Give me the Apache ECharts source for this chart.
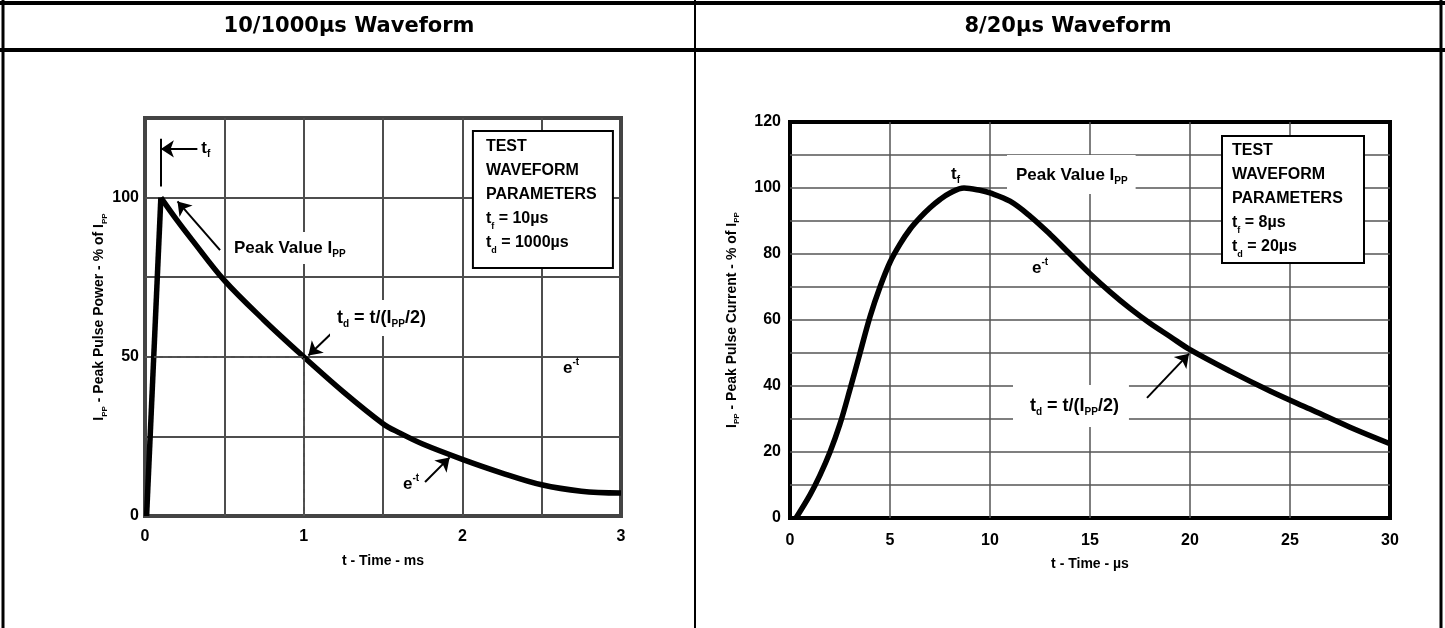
<!DOCTYPE html>
<html><head><meta charset="utf-8">
<script src="https://cdn.jsdelivr.net/npm/echarts@6/dist/echarts.min.js"></script>
<style>html,body{margin:0;padding:0;background:#fff}#c{width:1445px;height:628px}</style>
</head><body><div id="c"></div>
<script>
// ---- data ----
const panelTitles = ['10/1000µs Waveform', '8/20µs Waveform'];
const leftTime  = [0.01, 0.1, 0.2, 0.3, 0.5, 0.75, 1.0, 1.25, 1.5, 1.6, 1.75, 2.0, 2.25, 2.5, 2.75, 3.0];
const leftPower = [0, 100, 93, 86.5, 74, 61.5, 50, 39, 29, 26.2, 22.6, 17.8, 13.5, 9.8, 7.8, 7.2];
const rightTime    = [0.3, 1, 1.5, 2, 2.5, 3, 3.5, 4, 4.5, 5, 5.5, 6, 6.5, 7, 7.5, 8, 8.7, 9.5, 10, 11, 12, 13, 14, 15, 16, 17, 18, 19, 20, 22, 24, 26, 28, 30];
const rightCurrent = [0, 7, 13, 20, 28.5, 39, 50, 61, 70, 77.5, 83, 87.5, 91, 94, 96.5, 98.5, 100, 99.3, 98.5, 96, 91.5, 86, 80, 74, 68.5, 63.5, 59, 55, 51, 44.5, 38.5, 33, 27.5, 22.5];
const leftXLabels  = [0, 1, 2, 3];
const leftYLabels  = [0, 50, 100];
const rightXLabels = [0, 5, 10, 15, 20, 25, 30];
const rightYLabels = [0, 20, 40, 60, 80, 100, 120];
const leftHalfPoint = [1, 50];

// ---- styles ----
const F = 'Liberation Sans';
const HF = 'DejaVu Sans';
function rich(lh, fs, sfs) {
  return {
    b: {fontFamily: F, fontWeight: 'bold', fontSize: fs, color: '#000', lineHeight: lh, verticalAlign: 'middle'},
    s: {fontFamily: F, fontWeight: 'bold', fontSize: sfs, color: '#000', lineHeight: sfs + 2, verticalAlign: 'bottom'},
    p: {fontFamily: F, fontWeight: 'bold', fontSize: sfs, color: '#000', lineHeight: sfs + 2, verticalAlign: 'top'}
  };
}
function lab(coord, text, opt) {
  opt = opt || {};
  return {
    coord: coord, symbol: 'circle', symbolSize: 0, itemStyle: {color: 'rgba(0,0,0,0)'},
    label: Object.assign({
      show: true, position: [0, 0], align: 'left', verticalAlign: 'middle',
      formatter: text, rich: rich(opt.lh || 22, opt.fs || 17, opt.sfs || 10)
    }, opt.label || {})
  };
}
function box(coord, text, width, padding, lh) {
  return lab(coord, text, {lh: lh, fs: 16, sfs: 9, label: {
    verticalAlign: 'top', width: width, padding: padding,
    backgroundColor: '#fff', borderColor: '#000', borderWidth: 2
  }});
}
function arrow(a, b) {
  return [{coord: a, symbol: 'none', lineStyle: {color: '#000', width: 2, type: 'solid'}}, {coord: b, symbol: 'arrow', symbolSize: 13}];
}
function seg(a, b, style) {
  return [{coord: a, symbol: 'none', lineStyle: style}, {coord: b, symbol: 'none'}];
}
const dash = {color: '#555', width: 1.5, type: [5, 4]};
const solid2 = {color: '#000', width: 2, type: 'solid'};
const axisNameStyle = {fontFamily: F, fontWeight: 'bold', fontSize: 14, color: '#000', rich: {
  n: {fontFamily: F, fontWeight: 'bold', fontSize: 14, color: '#000', lineHeight: 18, verticalAlign: 'middle'},
  s: {fontFamily: F, fontWeight: 'bold', fontSize: 8, color: '#000', lineHeight: 9, verticalAlign: 'bottom'}
}};
const tickStyle = {fontFamily: F, fontWeight: 'bold', fontSize: 16, color: '#000'};
const lbl = (arr) => (v) => arr.indexOf(v) >= 0 ? String(v) : '';
const pairs = (xs, ys) => xs.map((t, i) => [t, ys[i]]);
const leftData = pairs(leftTime, leftPower);

const chart = echarts.init(document.getElementById('c'), null, {renderer: 'canvas'});

const tableStyle = {stroke: '#000', lineWidth: 4};
const curveStyle = {color: '#000', width: 5.5};
const tdText = '{b|t}{s|d}{b| = t/(I}{s|PP}{b|/2)}';
chart.setOption({
  animation: false,
  backgroundColor: '#fff',
  grid: [
    {left: 145, top: 118, width: 476, height: 398, show: true, borderColor: '#444', borderWidth: 4, backgroundColor: 'transparent'},
    {left: 790, top: 122, width: 600, height: 396, show: true, borderColor: '#000', borderWidth: 4, backgroundColor: 'transparent'}
  ],
  xAxis: [
    {type: 'value', gridIndex: 0, min: 0, max: 3, interval: 0.5,
     axisLine: {show: false}, axisTick: {show: false},
     axisLabel: Object.assign({margin: 13, formatter: lbl(leftXLabels)}, tickStyle),
     splitLine: {show: true, showMinLine: false, showMaxLine: false, lineStyle: {color: '#4d4d4d', width: 2}},
     name: 't - Time - ms', nameLocation: 'middle', nameGap: 38, nameTextStyle: axisNameStyle},
    {type: 'value', gridIndex: 1, min: 0, max: 30, interval: 5,
     axisLine: {show: false}, axisTick: {show: false},
     axisLabel: Object.assign({margin: 15, formatter: lbl(rightXLabels)}, tickStyle),
     splitLine: {show: true, showMinLine: false, showMaxLine: false, lineStyle: {color: '#555', width: 1.5}},
     name: 't - Time - µs', nameLocation: 'middle', nameGap: 39, nameTextStyle: axisNameStyle}
  ],
  yAxis: [
    {type: 'value', gridIndex: 0, min: 0, max: 125, interval: 25,
     axisLine: {show: false}, axisTick: {show: false},
     axisLabel: Object.assign({margin: 6, formatter: lbl(leftYLabels)}, tickStyle),
     splitLine: {show: true, showMinLine: false, showMaxLine: false, lineStyle: {color: '#4d4d4d', width: 2}},
     name: '{n|I}{s|PP}{n| - Peak Pulse Power - % of I}{s|PP}', nameLocation: 'middle', nameRotate: 90, nameGap: 34, nameTextStyle: axisNameStyle},
    {type: 'value', gridIndex: 1, min: 0, max: 120, interval: 10,
     axisLine: {show: false}, axisTick: {show: false},
     axisLabel: Object.assign({margin: 9, formatter: lbl(rightYLabels)}, tickStyle),
     splitLine: {show: true, showMinLine: false, showMaxLine: false, lineStyle: {color: '#555', width: 1.5}},
     name: '{n|I}{s|PP}{n| - Peak Pulse Current - % of I}{s|PP}', nameLocation: 'middle', nameRotate: 90, nameGap: 49, nameTextStyle: axisNameStyle}
  ],
  series: [
    // rise (front) of the 10/1000 pulse
    {type: 'line', xAxisIndex: 0, yAxisIndex: 0, showSymbol: false, smooth: false,
     data: leftData.slice(0, 2), lineStyle: curveStyle, z: 3},
    // decay (tail) of the 10/1000 pulse
    {type: 'line', xAxisIndex: 0, yAxisIndex: 0, showSymbol: false, smooth: 0.35,
     data: leftData.slice(1),
     lineStyle: curveStyle, z: 3,
     markLine: {silent: true, animation: false, label: {show: false}, symbol: 'none',
       data: [
         seg([0, leftHalfPoint[1]], leftHalfPoint, dash),
         seg([leftHalfPoint[0], 0], leftHalfPoint, dash),
         seg([0.1, 103.5], [0.1, 118.5], solid2),
         arrow([0.33, 115.3], [0.1, 115.3]),
         arrow([0.473, 83.5], [0.205, 98.8]),
         arrow([1.197, 58.4], [1.03, 50.4]),
         arrow([1.765, 10.7], [1.92, 18.4])
       ]},
     markPoint: {silent: true, animation: false, z: 5,
       data: [
         lab([0.355, 115.6], '{b|t}{s|f}'),
         lab([0.523, 89.2], '{b|Peak Value I}{s|PP}', {label: {verticalAlign: 'top', backgroundColor: '#fff', padding: [5, 6, 5, 6]}}),
         lab([1.166, 67.8], tdText, {lh: 22, fs: 18, sfs: 10, label: {verticalAlign: 'top', backgroundColor: '#fff', padding: [7, 7, 7, 7]}}),
         lab([2.634, 46.5], '{b|e}{p|-t}'),
         lab([1.626, 10.0], '{b|e}{p|-t}'),
         box([2.073, 120.6], '{b|TEST}\n{b|WAVEFORM}\n{b|PARAMETERS}\n{b|t}{s|f}{b| = 10µs}\n{b|t}{s|d}{b| = 1000µs}', 122, [3, 4, 12, 12], 24)
       ]}
    },
    {type: 'line', xAxisIndex: 1, yAxisIndex: 1, showSymbol: false, smooth: 0.35,
     data: pairs(rightTime, rightCurrent),
     lineStyle: curveStyle, z: 3,
     markLine: {silent: true, animation: false, label: {show: false}, symbol: 'none',
       data: [arrow([17.85, 36.4], [19.95, 49.8])]},
     markPoint: {silent: true, animation: false, z: 5,
       data: [
         lab([8.05, 104.2], '{b|t}{s|f}'),
         lab([10.85, 110.0], '{b|Peak Value I}{s|PP}', {label: {verticalAlign: 'top', backgroundColor: '#fff', padding: [9, 8, 8, 9]}}),
         lab([12.1, 75.8], '{b|e}{p|-t}'),
         lab([11.15, 40.3], tdText, {lh: 22, fs: 18, sfs: 10, label: {verticalAlign: 'top', backgroundColor: '#fff', padding: [10, 10, 10, 17]}}),
         box([21.65, 115.45], '{b|TEST}\n{b|WAVEFORM}\n{b|PARAMETERS}\n{b|t}{s|f}{b| = 8µs}\n{b|t}{s|d}{b| = 20µs}', 127, [2, 4, 3, 9], 24)
       ]}
    }
  ],
  graphic: [
    {type: 'line', shape: {x1: 0, y1: 3, x2: 1445, y2: 3}, style: tableStyle, z: 10},
    {type: 'line', shape: {x1: 0, y1: 50, x2: 1445, y2: 50}, style: tableStyle, z: 10},
    {type: 'line', shape: {x1: 3, y1: 0, x2: 3, y2: 628}, style: {stroke: '#000', lineWidth: 3}, z: 10},
    {type: 'line', shape: {x1: 1441, y1: 0, x2: 1441, y2: 628}, style: {stroke: '#000', lineWidth: 3}, z: 10},
    {type: 'line', shape: {x1: 695, y1: 0, x2: 695, y2: 628}, style: {stroke: '#000', lineWidth: 2}, z: 10},
    {type: 'text', x: 349, y: 27, style: {text: panelTitles[0], fontFamily: HF, fontWeight: 'bold', fontSize: 21, fill: '#000', textAlign: 'center', textVerticalAlign: 'middle'}},
    {type: 'text', x: 1068, y: 27, style: {text: panelTitles[1], fontFamily: HF, fontWeight: 'bold', fontSize: 21, fill: '#000', textAlign: 'center', textVerticalAlign: 'middle'}}
  ]
});
</script></body></html>
